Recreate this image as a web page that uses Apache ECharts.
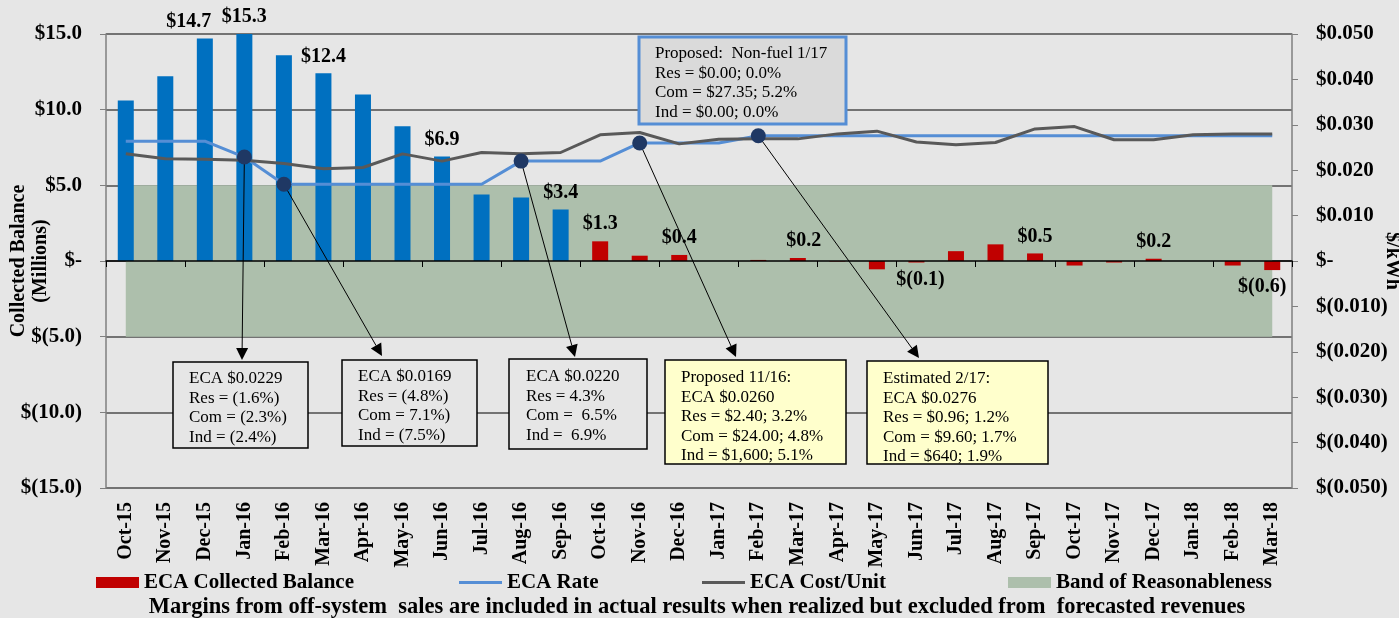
<!DOCTYPE html>
<html>
<head>
<meta charset="utf-8">
<script src="https://cdn.jsdelivr.net/npm/echarts@6/dist/echarts.min.js"></script>
<style>
  html, body { margin: 0; padding: 0; background: #e6e6e6; }
  #main { width: 1399px; height: 618px; }
</style>
</head>
<body>
<div id="main"></div>
<script>
var categories = ['Oct-15', 'Nov-15', 'Dec-15', 'Jan-16', 'Feb-16', 'Mar-16', 'Apr-16', 'May-16', 'Jun-16', 'Jul-16',
  'Aug-16', 'Sep-16', 'Oct-16', 'Nov-16', 'Dec-16', 'Jan-17', 'Feb-17', 'Mar-17', 'Apr-17', 'May-17',
  'Jun-17', 'Jul-17', 'Aug-17', 'Sep-17', 'Oct-17', 'Nov-17', 'Dec-17', 'Jan-18', 'Feb-18', 'Mar-18'];

// collected balance, $ millions (actuals through Sep-16, forecast after)
var balance = [10.6, 12.2, 14.7, 15.3, 13.6, 12.4, 11.0, 8.9, 6.9, 4.4,
  4.2, 3.4, 1.3, 0.35, 0.4, 0, 0.07, 0.2, -0.03, -0.55,
  -0.1, 0.65, 1.1, 0.5, -0.3, -0.1, 0.15, 0, -0.3, -0.6];
var lastActual = 'Sep-16';
var labelledMonths = ['Dec-15', 'Jan-16', 'Mar-16', 'Jun-16', 'Sep-16', 'Oct-16', 'Dec-16', 'Mar-17', 'Jun-17', 'Sep-17', 'Dec-17', 'Mar-18'];

// $/kWh
var ecaRate = [0.0264, 0.0264, 0.0264, 0.0229, 0.0169, 0.0169, 0.0169, 0.0169, 0.0169, 0.0169,
  0.0220, 0.0220, 0.0220, 0.0260, 0.0260, 0.0260, 0.0276, 0.0276, 0.0276, 0.0276,
  0.0276, 0.0276, 0.0276, 0.0276, 0.0276, 0.0276, 0.0276, 0.0276, 0.0276, 0.0276];
var ecaCost = [0.0236, 0.0225, 0.0224, 0.0222, 0.0215, 0.0203, 0.0206, 0.0236, 0.0220, 0.0239,
  0.0236, 0.0239, 0.0278, 0.0283, 0.0258, 0.0268, 0.0269, 0.0269, 0.0280, 0.0286,
  0.0262, 0.0256, 0.0261, 0.0291, 0.0296, 0.0267, 0.0267, 0.0278, 0.0280, 0.0280];

// band of reasonableness, $ millions
var bandLow = -5;
var bandHigh = 5;

// rate changes that get a callout
var markerMonths = ['Jan-16', 'Feb-16', 'Aug-16', 'Nov-16', 'Feb-17'];

var calloutText = [
  ['ECA $0.0229', 'Res = (1.6%)', 'Com = (2.3%)', 'Ind = (2.4%)'],
  ['ECA $0.0169', 'Res = (4.8%)', 'Com = 7.1%)', 'Ind = (7.5%)'],
  ['ECA $0.0220', 'Res = 4.3%', 'Com =  6.5%', 'Ind =  6.9%'],
  ['Proposed 11/16:', 'ECA $0.0260', 'Res = $2.40; 3.2%', 'Com = $24.00; 4.8%', 'Ind = $1,600; 5.1%'],
  ['Estimated 2/17:', 'ECA $0.0276', 'Res = $0.96; 1.2%', 'Com = $9.60; 1.7%', 'Ind = $640; 1.9%']
];
var nonFuelText = ['Proposed:  Non-fuel 1/17', 'Res = $0.00; 0.0%', 'Com = $27.35; 5.2%', 'Ind = $0.00; 0.0%'];

var FONT = '"Liberation Serif", "Times New Roman", serif';
var BLUE_BAR = '#0070c0';
var RED_BAR = '#c00000';
var RATE_COLOR = '#558ed5';
var COST_COLOR = '#595959';
var BAND_COLOR = '#adbfac';

function money1(v) {
  if (Math.abs(v) < 1e-9) return '$-';
  return v > 0 ? '$' + v.toFixed(1) : '$(' + (-v).toFixed(1) + ')';
}
function money3(v) {
  if (Math.abs(v) < 1e-9) return '$-';
  return v > 0 ? '$' + v.toFixed(3) : '$(' + (-v).toFixed(3) + ')';
}

var actualEnd = categories.indexOf(lastActual);
var labelOffsets = { 'Dec-15': [-16, 0], 'Mar-17': [6, 0], 'Mar-18': [-10, 0], 'Jun-17': [4, 0] };
var barData = balance.map(function (v, i) {
  var item = { value: v };
  if (i <= actualEnd) item.itemStyle = { color: BLUE_BAR };
  var m = categories[i];
  if (labelledMonths.indexOf(m) >= 0) {
    item.label = {
      show: true,
      position: v >= 0 ? 'top' : 'bottom',
      distance: 7,
      offset: labelOffsets[m] || [0, 0],
      formatter: function (p) { return money1(Math.round(p.value * 10) / 10); }
    };
  }
  return item;
});

var markerData = markerMonths.map(function (m) {
  return [m, ecaRate[categories.indexOf(m)]];
});

var myChart = echarts.init(document.getElementById('main'));

var legendBase = {
  orient: 'horizontal',
  top: 572,
  padding: 0,
  itemWidth: 43,
  itemHeight: 11,
  textStyle: { fontFamily: FONT, fontWeight: 'bold', fontSize: 21, color: '#000' }
};

var option = {
  backgroundColor: '#e6e6e6',
  animation: false,
  textStyle: { fontFamily: FONT },
  grid: { left: 106, right: 107, top: 34, bottom: 130 },
  legend: [
    Object.assign({}, legendBase, { left: 96, data: [{ name: 'ECA Collected Balance', icon: 'rect' }] }),
    Object.assign({}, legendBase, { left: 459, itemHeight: 3, data: [{ name: 'ECA Rate', icon: 'rect' }] }),
    Object.assign({}, legendBase, { left: 702, itemHeight: 3, data: [{ name: 'ECA Cost/Unit', icon: 'rect' }] }),
    Object.assign({}, legendBase, { left: 1008, data: [{ name: 'Band of Reasonableness', icon: 'rect' }] })
  ],
  xAxis: [{
    type: 'category',
    data: categories,
    position: 'bottom',
    axisLine: { show: false, onZero: false },
    axisTick: { show: false },
    axisLabel: {
      interval: 0,
      rotate: 90,
      margin: 14,
      color: '#000',
      fontFamily: FONT,
      fontWeight: 'bold',
      fontSize: 20
    },
    splitLine: { show: false }
  }, {
    type: 'category',
    data: categories,
    position: 'bottom',
    z: 10,
    axisLine: { show: true, onZero: true, onZeroAxisIndex: 0, lineStyle: { color: '#000', width: 1.5 } },
    axisTick: { show: true, length: 6, lineStyle: { color: '#000' } },
    axisLabel: { show: false },
    splitLine: { show: false }
  }],
  yAxis: [{
    type: 'value',
    min: -15,
    max: 15,
    interval: 5,
    axisLine: { show: true, lineStyle: { color: '#7f7f7f', width: 1.5 } },
    axisTick: { show: true, length: 6, lineStyle: { color: '#7f7f7f' } },
    axisLabel: {
      margin: 24,
      color: '#000',
      fontFamily: FONT,
      fontWeight: 'bold',
      fontSize: 21,
      formatter: money1
    },
    splitLine: { show: true, lineStyle: { color: '#4d4d4d', width: 1.5 } }
  }, {
    type: 'value',
    min: -0.05,
    max: 0.05,
    interval: 0.01,
    axisLine: { show: true, lineStyle: { color: '#7f7f7f', width: 1.5 } },
    axisTick: { show: true, length: 6, lineStyle: { color: '#7f7f7f' } },
    axisLabel: {
      margin: 24,
      color: '#000',
      fontFamily: FONT,
      fontWeight: 'bold',
      fontSize: 21,
      formatter: money3
    },
    splitLine: { show: false }
  }],
  series: [{
    name: 'Band of Reasonableness',
    type: 'line',
    z: 1,
    data: [],
    itemStyle: { color: BAND_COLOR },
    markArea: {
      silent: true,
      itemStyle: { color: BAND_COLOR, opacity: 1 },
      data: [[
        { xAxis: categories[0], yAxis: bandLow },
        { xAxis: categories[categories.length - 1], yAxis: bandHigh }
      ]]
    }
  }, {
    name: 'ECA Collected Balance',
    type: 'bar',
    z: 2,
    barWidth: 16,
    itemStyle: { color: RED_BAR },
    label: { color: '#000', fontFamily: FONT, fontWeight: 'bold', fontSize: 20 },
    data: barData
  }, {
    name: 'ECA Rate',
    type: 'line',
    yAxisIndex: 1,
    z: 4,
    symbol: 'none',
    itemStyle: { color: RATE_COLOR },
    lineStyle: { color: RATE_COLOR, width: 3 },
    data: ecaRate
  }, {
    name: 'ECA Cost/Unit',
    type: 'line',
    yAxisIndex: 1,
    z: 4,
    symbol: 'none',
    itemStyle: { color: COST_COLOR },
    lineStyle: { color: COST_COLOR, width: 3 },
    data: ecaCost
  }, {
    name: 'rate change',
    type: 'scatter',
    yAxisIndex: 1,
    z: 5,
    symbolSize: 15,
    itemStyle: { color: '#1f3864', opacity: 1 },
    data: markerData
  }]
};

myChart.setOption(option);

// callout boxes: [x, y, width, height, text left, first line top, fill, stroke, stroke width]
var boxes = [
  [173, 362, 135, 86, 189, 369, '#e6e6e6', '#000', 1.5],
  [342, 360, 135, 86, 358, 367, '#e6e6e6', '#000', 1.5],
  [509, 359, 138, 90, 526, 367, '#e6e6e6', '#000', 1.5],
  [665, 360, 181, 104, 681, 368, '#ffffcc', '#000', 1.5],
  [867, 361, 181, 103, 883, 369, '#ffffcc', '#000', 1.5]
];
var arrowTips = [[242, 360], [382, 356], [575, 357], [736, 357], [919, 358]];

var graphics = [];

function addBox(b, lines) {
  graphics.push({
    type: 'rect', z: 6,
    shape: { x: b[0], y: b[1], width: b[2], height: b[3] },
    style: { fill: b[6], stroke: b[7], lineWidth: b[8] }
  });
  graphics.push({
    type: 'text', z: 7, x: b[4], y: b[5],
    style: {
      text: lines.join('\n'),
      font: '17px ' + FONT,
      lineHeight: 19.5,
      fill: '#000',
      textVerticalAlign: 'top'
    }
  });
}

boxes.forEach(function (b, i) { addBox(b, calloutText[i]); });
addBox([639, 37, 207, 87, 655, 44, '#dadada', RATE_COLOR, 3], nonFuelText);

// arrows from each rate-change marker to its box
markerData.forEach(function (d, i) {
  var p = myChart.convertToPixel({ seriesIndex: 4 }, d);
  var tip = arrowTips[i];
  var dx = tip[0] - p[0], dy = tip[1] - p[1];
  var len = Math.sqrt(dx * dx + dy * dy);
  var ux = dx / len, uy = dy / len;
  var bx = tip[0] - ux * 12, by = tip[1] - uy * 12;
  var nx = -uy * 6, ny = ux * 6;
  graphics.push({
    type: 'line', z: 3,
    shape: { x1: p[0], y1: p[1], x2: bx, y2: by },
    style: { stroke: '#000', lineWidth: 1 }
  });
  graphics.push({
    type: 'polygon', z: 3,
    shape: { points: [[tip[0], tip[1]], [bx + nx, by + ny], [bx - nx, by - ny]] },
    style: { fill: '#000' }
  });
});

// axis titles and footnote
graphics.push({
  type: 'text', x: 30, y: 261, rotation: Math.PI / 2,
  style: {
    text: 'Collected Balance\n(Millions)',
    font: 'bold 20px ' + FONT,
    lineHeight: 22,
    fill: '#000',
    textAlign: 'center',
    textVerticalAlign: 'middle'
  }
});
graphics.push({
  type: 'text', x: 1392, y: 261, rotation: -Math.PI / 2,
  style: {
    text: '$/kWh',
    font: 'bold 20px ' + FONT,
    fill: '#000',
    textAlign: 'center',
    textVerticalAlign: 'middle'
  }
});
graphics.push({
  type: 'text', x: 697, y: 607,
  style: {
    text: 'Margins from off-system  sales are included in actual results when realized but excluded from  forecasted revenues',
    font: 'bold 22.5px ' + FONT,
    fill: '#000',
    textAlign: 'center',
    textVerticalAlign: 'middle'
  }
});

myChart.setOption({ graphic: graphics });
</script>
</body>
</html>
